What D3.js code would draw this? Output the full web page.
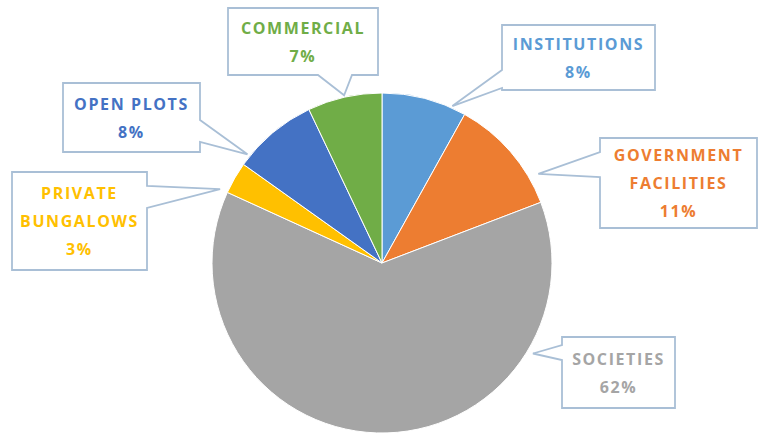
<!DOCTYPE html>
<html>
<head>
<meta charset="utf-8">
<script src="https://cdn.jsdelivr.net/npm/d3@7"></script>
<style>
  html, body { margin: 0; padding: 0; background: #ffffff; }
  svg { display: block; }
</style>
</head>
<body>
<svg id="chart" width="761" height="437"></svg>
<script>
// Land-use shares (percent), in clockwise order from 12 o'clock
const categories = ["INSTITUTIONS", "GOVERNMENT FACILITIES", "SOCIETIES", "PRIVATE BUNGALOWS", "OPEN PLOTS", "COMMERCIAL"];
const shares = [8, 11, 62, 3, 8, 7];
const sliceColors = ["#5b9bd5", "#ed7d31", "#a5a5a5", "#ffc000", "#4472c4", "#70ad47"];
// Label text lines for each callout (category words + percentage)
const labelLines = [
  ["INSTITUTIONS"],
  ["GOVERNMENT", "FACILITIES"],
  ["SOCIETIES"],
  ["PRIVATE", "BUNGALOWS"],
  ["OPEN PLOTS"],
  ["COMMERCIAL"]
];

// Callout box placement: box rect, side the pointer leaves from,
// pointer base span on that side, and where along the slice the tip lands.
const callouts = [
  { x: 502, y: 25,  w: 153, h: 65, side: "left",   base: [70, 88],   along: 0.83, reach: 172 },
  { x: 600, y: 138, w: 157, h: 90, side: "left",   base: [152, 177], along: 0.78, reach: 180 },
  { x: 562, y: 337, w: 113, h: 71, side: "left",   base: [345, 360], along: 0.23, reach: 176 },
  { x: 12,  y: 172, w: 135, h: 98, side: "right",  base: [186, 208], along: 0.0,  reach: 178 },
  { x: 63,  y: 83,  w: 137, h: 69, side: "right",  base: [120, 142], along: 0.12, reach: 173 },
  { x: 228, y: 8,   w: 150, h: 67, side: "bottom", base: [318, 352], along: 0.5,  reach: 172 }
];

const cx = 382, cy = 263, radius = 170;
const svg = d3.select("#chart");

const pie = d3.pie().sort(null).value(d => d)(shares);
const arc = d3.arc().innerRadius(0).outerRadius(radius);

// Pie slices
svg.append("g")
  .attr("transform", `translate(${cx},${cy})`)
  .selectAll("path")
  .data(pie)
  .join("path")
  .attr("d", arc)
  .attr("fill", (d, i) => sliceColors[i])
  .attr("stroke", "#ffffff")
  .attr("stroke-width", 1);

// Callout outline: rectangle with a wedge pointing at the slice
function calloutPath(c, tip) {
  const { x, y, w, h, side, base } = c;
  const [a, b] = base;
  const p = d3.path();
  p.moveTo(x, y);
  p.lineTo(x + w, y);
  if (side === "right") {
    p.lineTo(x + w, a);
    p.lineTo(tip[0], tip[1]);
    p.lineTo(x + w, b);
  }
  p.lineTo(x + w, y + h);
  if (side === "bottom") {
    p.lineTo(b, y + h);
    p.lineTo(tip[0], tip[1]);
    p.lineTo(a, y + h);
  }
  p.lineTo(x, y + h);
  if (side === "left") {
    p.lineTo(x, b);
    p.lineTo(tip[0], tip[1]);
    p.lineTo(x, a);
  }
  p.closePath();
  return p.toString();
}

const fmt = d3.format(".0f");
const lineH = 28;

const labels = svg.append("g")
  .selectAll("g")
  .data(pie)
  .join("g");

labels.each(function(d, i) {
  const c = callouts[i];
  const ang = d.startAngle + (d.endAngle - d.startAngle) * c.along;
  const tip = [cx + c.reach * Math.sin(ang), cy - c.reach * Math.cos(ang)];
  const g = d3.select(this);

  g.append("path")
    .attr("d", calloutPath(c, tip))
    .attr("fill", "#ffffff")
    .attr("stroke", "#a9bfd6")
    .attr("stroke-width", 1.8)
    .attr("stroke-linejoin", "miter");

  const lines = labelLines[i].concat([fmt(shares[i]) + "%"]);
  const midY = c.y + c.h / 2;
  const firstY = midY - (lines.length - 1) * lineH / 2 + 6;
  g.append("text")
    .attr("text-anchor", "middle")
    .attr("font-family", "'Open Sans', sans-serif")
    .attr("font-weight", 700)
    .attr("font-size", 16)
    .attr("letter-spacing", 1.6)
    .attr("fill", sliceColors[i])
    .selectAll("tspan")
    .data(lines)
    .join("tspan")
    .attr("x", c.x + c.w / 2)
    .attr("y", (t, k) => firstY + k * lineH)
    .text(t => t);
});
</script>
</body>
</html>
